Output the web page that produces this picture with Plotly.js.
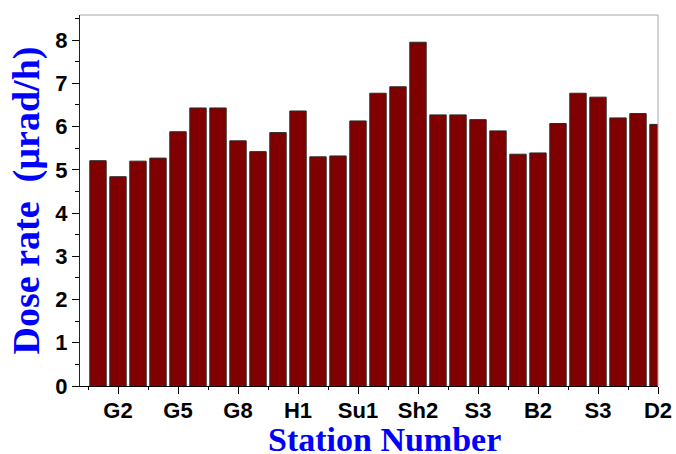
<!DOCTYPE html>
<html>
<head>
<meta charset="utf-8">
<script src="https://cdn.plot.ly/plotly-3.0.1.min.js"></script>
<style>html,body{margin:0;padding:0;background:#fff;}#chart{width:676px;height:454px;}</style>
</head>
<body>
<div id="chart"></div>
<script>
// Station index (1..29) and dose rate values (µrad/h)
var stationIndex = [1,2,3,4,5,6,7,8,9,10,11,12,13,14,15,16,17,18,19,20,21,22,23,24,25,26,27,28,29];
var doseRate = [5.21, 4.84, 5.20, 5.27, 5.88, 6.43, 6.43, 5.67, 5.42, 5.86, 6.36, 5.30, 5.32, 6.13, 6.77, 6.92, 7.95, 6.27, 6.27, 6.16, 5.90, 5.36, 5.39, 6.07, 6.77, 6.68, 6.20, 6.30, 6.05];
var tickPositions = [2, 5, 8, 11, 14, 17, 20, 23, 26, 29];
var tickLabels = ['G2', 'G5', 'G8', 'H1', 'Su1', 'Sh2', 'S3', 'B2', 'S3', 'D2'];

var tickFont = {family: 'Arial, "Liberation Sans", sans-serif', size: 22, color: '#000', weight: 'bold'};
var xTitleFont = {family: '"Times New Roman", "Liberation Serif", serif', size: 34, color: '#0000ff', weight: 'bold'};
var yTitleFont = {family: '"Times New Roman", "Liberation Serif", serif', size: 38, color: '#0000ff', weight: 'bold'};

var trace = {
  type: 'bar',
  x: stationIndex,
  y: doseRate,
  width: 0.82,
  marker: {color: '#800000', line: {color: '#2a2a2a', width: 1}},
  hoverinfo: 'x+y'
};

var layout = {
  width: 676, height: 454,
  margin: {l: 80, r: 18, t: 15, b: 68},
  paper_bgcolor: '#fff', plot_bgcolor: '#fff',
  showlegend: false,
  xaxis: {
    range: [0.1, 29],
    tickmode: 'array', tickvals: tickPositions, ticktext: tickLabels,
    ticks: 'outside', ticklen: 7, tickwidth: 1, tickcolor: '#000',
    ticklabelstandoff: -2,
    minor: {tickmode: 'linear', tick0: 0.5, dtick: 1.5, ticks: 'outside', ticklen: 3, tickcolor: '#000', showgrid: false},
    showline: true, linecolor: '#000', linewidth: 1,
    showgrid: false, zeroline: false,
    tickfont: tickFont
  },
  yaxis: {
    range: [0, 8.58],
    tickmode: 'linear', tick0: 0, dtick: 1,
    ticks: 'outside', ticklen: 7, tickwidth: 1, tickcolor: '#000',
    minor: {tickmode: 'linear', tick0: 0, dtick: 0.5, ticks: 'outside', ticklen: 4, tickcolor: '#000', showgrid: false},
    showline: true, linecolor: '#222', linewidth: 1,
    showgrid: false, zeroline: false,
    tickfont: tickFont,
    title: {text: 'Dose rate\u00a0 (µrad/h)', font: yTitleFont, standoff: 4}
  },
  annotations: [
    {text: 'Station Number', font: xTitleFont, xref: 'paper', yref: 'paper',
     x: 0.526, y: -0.145, xanchor: 'center', yanchor: 'middle', borderpad: 0, showarrow: false}
  ],
  shapes: [
    {type: 'line', xref: 'paper', yref: 'paper', x0: 0, x1: 1, y0: 1, y1: 1, line: {color: '#a8a8a8', width: 1}},
    {type: 'line', xref: 'paper', yref: 'paper', x0: 1, x1: 1, y0: 0, y1: 1, line: {color: '#a8a8a8', width: 1}}
  ]
};

Plotly.newPlot('chart', [trace], layout, {displayModeBar: false, staticPlot: true});
</script>
</body>
</html>
